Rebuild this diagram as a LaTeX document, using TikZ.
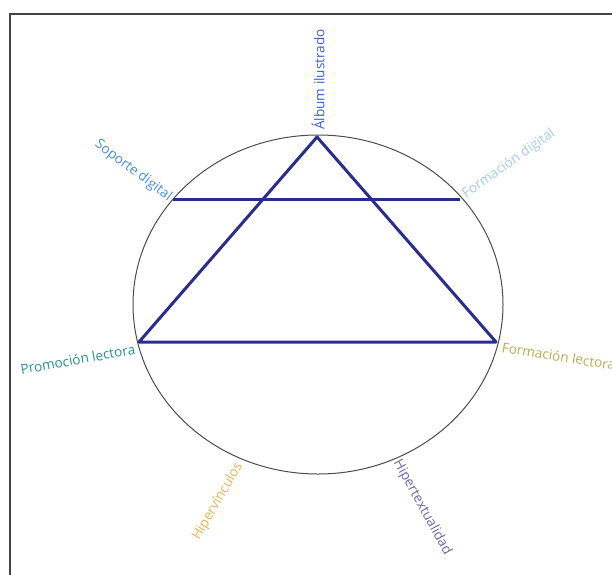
\documentclass[tikz,border=0pt]{standalone}
\usepackage{fontspec}
\setmainfont{Open Sans}
\usetikzlibrary{shapes.geometric}
\begin{document}
\begin{tikzpicture}[x=1pt,y=-1pt,
  lbl/.style={font=\fontsize{13.6}{15}\selectfont, inner sep=1pt},
  tri/.style={draw=navy, line width=3pt, line join=round},
  frame/.style={draw=framegray, line width=1.8pt}]
\definecolor{navy}{HTML}{2B2D8C}
\definecolor{framegray}{HTML}{444444}
\definecolor{cAlbum}{HTML}{3F5FC6}
\definecolor{cSoporte}{HTML}{4A8FDC}
\definecolor{cFdig}{HTML}{A6CBF0}
\definecolor{cProm}{HTML}{2F8F96}
\definecolor{cFlec}{HTML}{B0B058}
\definecolor{cHiperv}{HTML}{E2B65E}
\definecolor{cHipert}{HTML}{6A6AA6}
\useasboundingbox (0,0) rectangle (612,574);
\draw[frame] (10,14) rectangle (640,600);
\node[draw=black!70, line width=1pt, ellipse, minimum width=370pt, minimum height=339pt, inner sep=0pt] (circ) at (318,304.5) {};
\coordinate (apex) at (317,137);
\coordinate (bl) at (139,342);
\coordinate (br) at (496,342);
\coordinate (cl) at (173,199);
\coordinate (cr) at (460,199);
\draw[tri] (apex) -- (bl) -- (br) -- cycle;
\draw[tri] (cl) -- (cr);
\node[lbl, text=cAlbum, rotate=90, anchor=west] (album) at (318,131) {Álbum ilustrado};
\node[lbl, text=cSoporte, rotate=-37, anchor=east] (soporte) at (171,199) {Soporte digital};
\node[lbl, text=cFdig, rotate=35, anchor=west] (fdig) at (463,196) {Formación digital};
\node[lbl, text=cProm, rotate=10, anchor=east] (prom) at (136,349) {Promoción lectora};
\node[lbl, text=cFlec, rotate=-9, anchor=west] (flec) at (501,347) {Formación lectora};
\node[lbl, text=cHiperv, rotate=60, anchor=east] (hiperv) at (240,463) {Hipervínculos};
\node[lbl, text=cHipert, rotate=-61, anchor=west] (hipert) at (396,460) {Hipertextualidad};
\end{tikzpicture}
\end{document}
